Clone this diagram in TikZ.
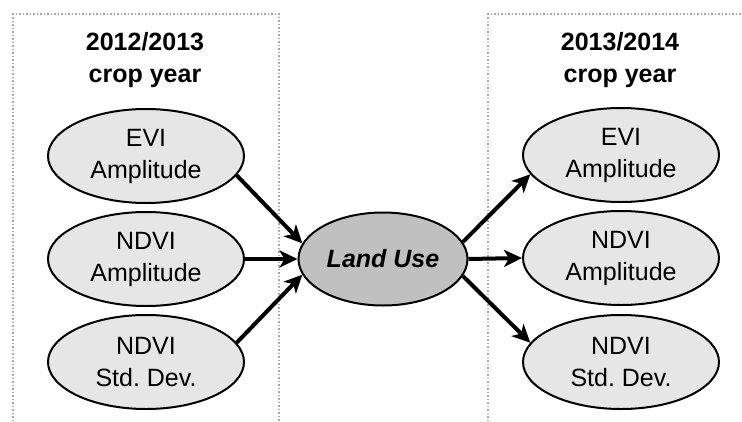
\documentclass[tikz,border=0pt]{standalone}
\usepackage{fontspec}
\setmainfont{Liberation Sans}
\usepackage{tikz}
\usetikzlibrary{shapes.geometric,arrows.meta}

\definecolor{indexgray}{HTML}{E6E6E6}
\definecolor{usegray}{HTML}{C0C0C0}
\definecolor{framegray}{HTML}{A8A8A8}

\newcommand{\labelsize}{\fontsize{25}{32}\selectfont}

\begin{document}
\begin{tikzpicture}[
            x = 1pt, y = -1pt, % pixel units, y pointing down
            >= {Stealth[length=18pt,width=17pt,inset=5pt]}, % arrow head style
            line width = 4pt % arrow line style
        ]

        \tikzstyle{index}=[
            ellipse,
            draw = black,
            line width = 2pt,
            fill = indexgray,
            minimum width = 196pt,
            minimum height = 94pt,
            inner sep = 0pt,
            align = center,
            font = \labelsize
        ]
        \tikzstyle{landuse}=[
            index,
            fill = usegray,
            minimum width = 169pt,
            minimum height = 93pt,
            font = \labelsize\bfseries\itshape
        ]
        \tikzstyle{cropyear}=[inner sep = 0pt, align = center, font = \labelsize\bfseries]
        \tikzstyle{frame}=[draw = framegray, dotted, line width = 1.5pt]

\useasboundingbox (0,0) rectangle (742,421);

\draw[frame] (13,421) -- (13,14) -- (279,14) -- (279,421);
\draw[frame] (488,421) -- (488,14) -- (742,14);

\node[cropyear] (year12) at (145,60) {2012/2013\\crop year};
\node[cropyear] (year13) at (620,60) {2013/2014\\crop year};

\node[index] (evi12) at (146,156) {EVI\\Amplitude};
\node[index] (ndvi12) at (146,259) {NDVI\\Amplitude};
\node[index] (sd12) at (146,362) {NDVI\\Std.\ Dev.};
\node[landuse] (land) at (383,259) {Land Use};
\node[index] (evi13) at (621,155) {EVI\\Amplitude};
\node[index] (ndvi13) at (621,258) {NDVI\\Amplitude};
\node[index] (sd13) at (621,362) {NDVI\\Std.\ Dev.};

 \path [->] (evi12.-12) edge (land.169);
 \path [->] (ndvi12.east) edge (land.west);
 \path [->] (sd12.12) edge (land.191);
  \path [->] (land.12) edge (evi13.192);
  \path [->] (land.east) edge (ndvi13.west);
  \path [->] (land.-12) edge (sd13.168);
\end{tikzpicture}
\end{document}
